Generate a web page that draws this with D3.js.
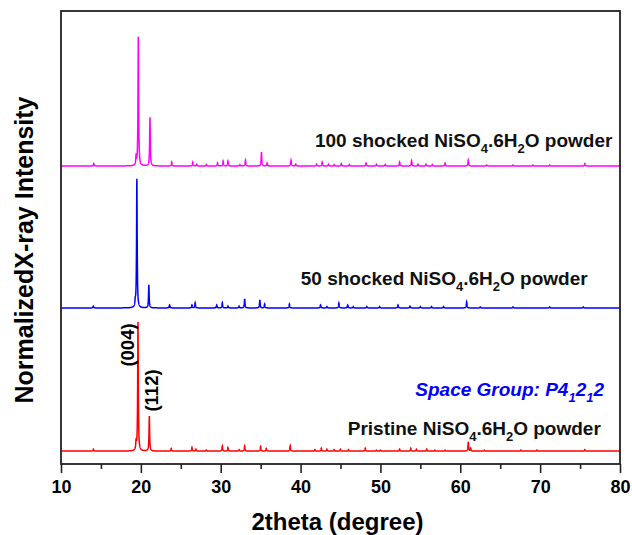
<!DOCTYPE html>
<html>
<head>
<meta charset="utf-8">
<script src="https://cdn.jsdelivr.net/npm/d3@7"></script>
<style>
  body { margin: 0; background: #fff; }
  text { font-family: "Liberation Sans", Arial, sans-serif; font-weight: bold; }
</style>
</head>
<body>
<svg width="632" height="535"></svg>
<script>
// peak positions (2theta, deg) and normalized heights
var pristinePos = [14.05, 19.4, 19.64, 21.06, 23.8, 26.4, 26.9, 28.2, 30.2, 30.9, 32.3, 33.0, 35.0, 35.7, 38.7, 41.8, 42.6, 43.3, 44.2, 45.0, 46.0, 48.1, 49.5, 50.0, 52.4, 53.8, 54.5, 55.8, 56.8, 58.1, 61.0, 61.3, 63.0, 67.6, 69.6, 75.6];
var pristineInt = [0.015, 0.062, 1.0, 0.27, 0.02, 0.03, 0.015, 0.008, 0.04, 0.027, 0.012, 0.04, 0.035, 0.02, 0.043, 0.012, 0.023, 0.015, 0.012, 0.015, 0.012, 0.023, 0.008, 0.008, 0.015, 0.023, 0.015, 0.015, 0.008, 0.008, 0.07, 0.023, 0.008, 0.008, 0.008, 0.012];

var shock50Pos = [14.05, 19.3, 19.5, 21.0, 23.6, 26.4, 26.8, 29.5, 30.2, 30.9, 32.3, 33.0, 34.9, 35.5, 38.6, 42.5, 43.3, 44.8, 45.9, 46.6, 48.3, 49.9, 52.2, 53.7, 55.0, 56.4, 57.9, 60.8, 62.5, 66.6, 71.2, 75.4];
var shock50Int = [0.015, 0.04, 1.0, 0.178, 0.023, 0.023, 0.04, 0.023, 0.04, 0.015, 0.015, 0.07, 0.062, 0.031, 0.031, 0.023, 0.012, 0.039, 0.023, 0.012, 0.012, 0.012, 0.023, 0.015, 0.012, 0.012, 0.012, 0.047, 0.008, 0.008, 0.008, 0.008];

var shock100Pos = [14.1, 19.4, 19.68, 21.14, 23.86, 26.5, 27.0, 28.2, 29.6, 30.3, 30.9, 32.4, 33.1, 35.1, 35.8, 38.8, 39.4, 42.0, 42.7, 43.5, 44.2, 45.1, 46.1, 48.2, 49.5, 50.6, 52.4, 53.9, 54.7, 55.7, 56.5, 58.1, 61.0, 63.3, 66.6, 69.1, 71.2, 75.6];
var shock100Int = [0.019, 0.062, 1.0, 0.377, 0.031, 0.031, 0.015, 0.012, 0.023, 0.038, 0.038, 0.012, 0.046, 0.108, 0.023, 0.046, 0.015, 0.015, 0.031, 0.015, 0.012, 0.019, 0.012, 0.023, 0.015, 0.012, 0.031, 0.042, 0.015, 0.015, 0.012, 0.023, 0.046, 0.008, 0.008, 0.008, 0.008, 0.019];

var offsets = [0, 1.109, 2.209];
var colors = ["#ff0000", "#0000ff", "#ff00ff"];
var xTicks = [10, 20, 30, 40, 50, 60, 70, 80];

var svg = d3.select("svg"),
	margin = {top: 11, right: 12, bottom: 71, left: 61},
	width = +svg.attr("width") - margin.left - margin.right,
	height = +svg.attr("height") - margin.top - margin.bottom,
	g = svg.append("g").attr("transform", "translate(" + margin.left + "," + margin.top + ")");

var x = d3.scaleLinear().domain([10, 80]).range([0, width]);
var y = d3.scaleLinear().domain([-0.1, 3.41]).range([height, 0]);

// turn a peak list into a sampled pattern (narrow lorentzian peaks)
function pattern(pos, inten, off) {
	var pts = [], hw = 0.045;
	for (var i = 0; i <= 7000; i++) {
		var t = 10 + i * 0.01, v = 0;
		for (var k = 0; k < pos.length; k++) {
			var d = t - pos[k];
			v += inten[k] * hw * hw / (d * d + hw * hw);
		}
		pts.push([t, v + off]);
	}
	return pts;
}

var line = d3.line()
	.x(function(d) { return x(d[0]); })
	.y(function(d) { return y(d[1]); });

var series = [[pristinePos, pristineInt], [shock50Pos, shock50Int], [shock100Pos, shock100Int]];
series.forEach(function(s, i) {
	g.append("path")
		.attr("d", line(pattern(s[0], s[1], offsets[i])))
		.attr("fill", "none")
		.attr("stroke", colors[i])
		.attr("stroke-width", 1.5);
});

// bottom axis, major + minor ticks pointing out
var xAxis = g.append("g")
	.attr("transform", "translate(0," + height + ")")
	.call(d3.axisBottom(x).tickValues(xTicks).tickSize(9).tickPadding(7).tickFormat(d3.format("d")));
xAxis.select(".domain").remove();
xAxis.selectAll("line").attr("stroke", "#222").attr("stroke-width", 1.6);
xAxis.selectAll("text").attr("font-size", 18).attr("fill", "#000");

g.append("g")
	.attr("transform", "translate(0," + height + ")")
	.call(d3.axisBottom(x).tickValues([15, 25, 35, 45, 55, 65, 75]).tickSize(5).tickFormat(""))
	.call(function(a) { a.select(".domain").remove(); })
	.selectAll("line").attr("stroke", "#222").attr("stroke-width", 1.6);

g.append("rect")
	.attr("width", width)
	.attr("height", height)
	.attr("fill", "none")
	.attr("stroke", "#222")
	.attr("stroke-width", 1.8);

// labels with subscripts
function chemLabel(prefix, xv, yb) {
	var t = g.append("text")
		.attr("x", x(xv))
		.attr("y", yb)
		.attr("text-anchor", "end")
		.attr("font-size", 19)
		.attr("fill", "#111");
	t.append("tspan").text(prefix + "NiSO");
	t.append("tspan").attr("dy", 6).attr("font-size", 13).text("4");
	t.append("tspan").attr("dy", -6).text(".6H");
	t.append("tspan").attr("dy", 6).attr("font-size", 13).text("2");
	t.append("tspan").attr("dy", -6).text("O powder");
}
chemLabel("100 shocked ", 79.05, 136);
chemLabel("50 shocked ", 75.95, 274);
chemLabel("Pristine ", 77.6, 424);

var sg = g.append("text")
	.attr("x", x(78.0))
	.attr("y", 385)
	.attr("text-anchor", "end")
	.attr("font-size", 19)
	.attr("font-style", "italic")
	.attr("fill", "#0000ff");
sg.append("tspan").text("Space Group: P4");
sg.append("tspan").attr("dy", 6).attr("font-size", 13).text("1");
sg.append("tspan").attr("dy", -6).text("2");
sg.append("tspan").attr("dy", 6).attr("font-size", 13).text("1");
sg.append("tspan").attr("dy", -6).text("2");

// miller indices
g.append("text")
	.attr("transform", "translate(" + (x(19.64) - 4) + "," + 334 + ") rotate(-90)")
	.attr("text-anchor", "middle")
	.attr("font-size", 18.5)
	.text("(004)");
g.append("text")
	.attr("transform", "translate(" + (x(21.06) + 9) + "," + 379.5 + ") rotate(-90)")
	.attr("text-anchor", "middle")
	.attr("font-size", 18.5)
	.text("(112)");

// axis titles
svg.append("text")
	.attr("x", margin.left + width / 2 - 3)
	.attr("y", 530)
	.attr("text-anchor", "middle")
	.attr("font-size", 24)
	.text("2theta (degree)");

svg.append("text")
	.attr("transform", "translate(33," + 250 + ") rotate(-90)")
	.attr("text-anchor", "middle")
	.attr("font-size", 25)
	.text("NormalizedX-ray Intensity");
</script>
</body>
</html>
